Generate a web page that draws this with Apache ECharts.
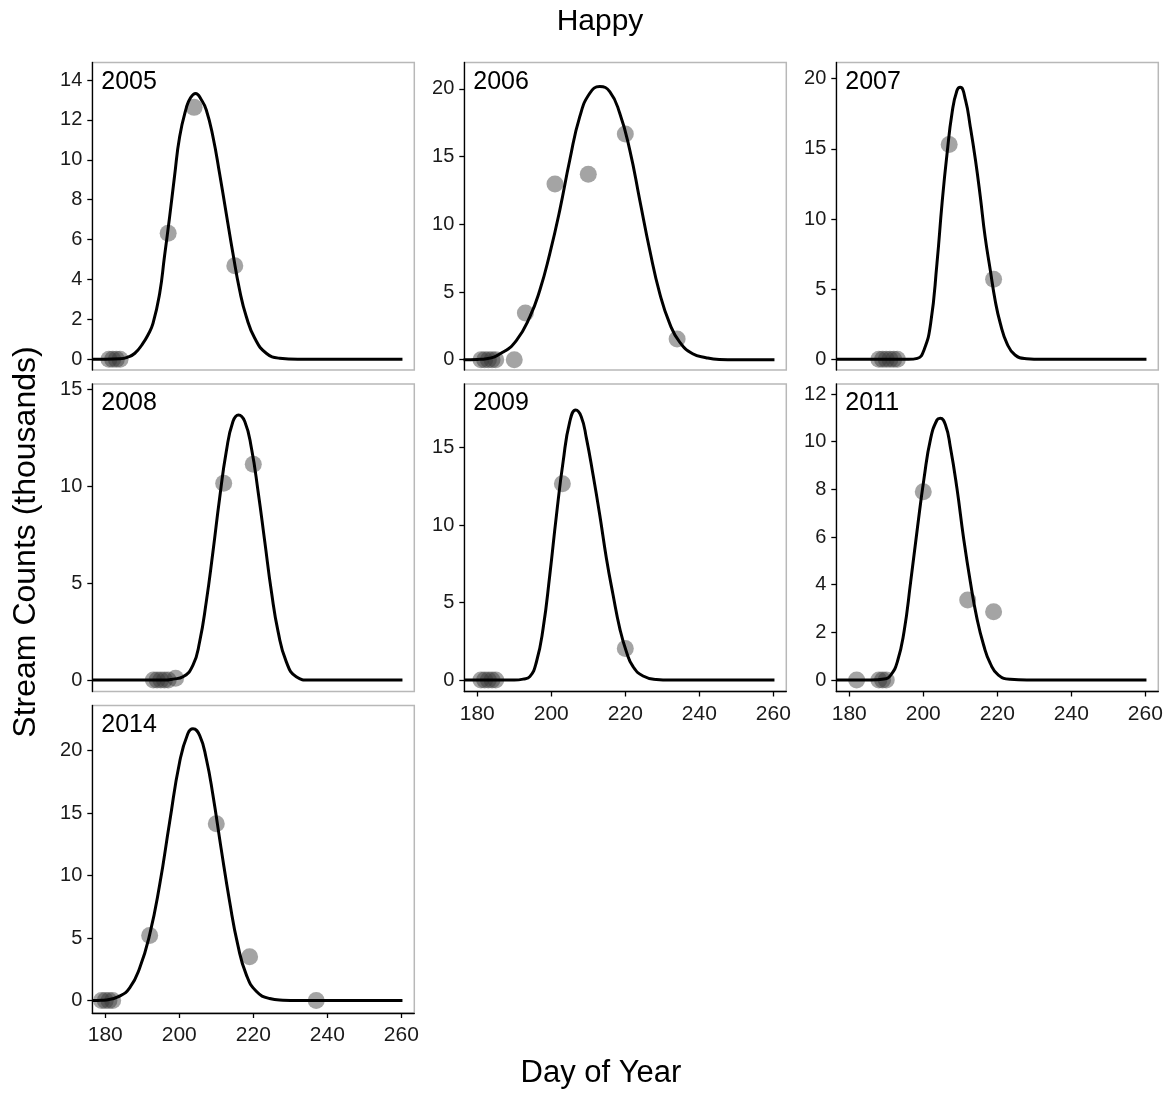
<!DOCTYPE html>
<html>
<head>
<meta charset="utf-8">
<script src="https://cdn.jsdelivr.net/npm/echarts@6/dist/echarts.min.js"></script>
<style>
html,body{margin:0;padding:0;background:#fff;}
#chart{width:1169px;height:1093px;}
</style>
</head>
<body>
<div id="chart"></div>
<script>
// ---- data ----
const years = ['2005', '2006', '2007', '2008', '2009', '2011', '2014'];
const xTicks = [180, 200, 220, 240, 260];

const pts2005 = [[181,0],[182,0],[183,0],[184,0],[197,6.32],[204,12.63],[215,4.69]];
const pts2006 = [[181,0],[182,0],[183,0],[184,0],[185,0],[190,0],[193,3.45],[201,12.97],[210,13.7],[220,16.67],[234,1.53]];
const pts2007 = [[188,0],[189,0],[190,0],[191,0],[192,0],[193,0],[207,15.3],[219,5.7]];
const pts2008 = [[193,0],[194,0],[195,0],[196,0],[197,0],[199,0.1],[212,10.16],[220,11.14]];
const pts2009 = [[181,0],[182,0],[183,0],[184,0],[185,0],[203,12.67],[220,2.04]];
const pts2011 = [[182,0],[188,0],[189,0],[190,0],[200,7.9],[212,3.36],[219,2.87]];
const pts2014 = [[179,0],[180,0],[181,0],[182,0],[192,5.21],[210,14.15],[219,3.51],[237,0]];

const fit2005 = [[176.5,0],[180,0],[184,0.02],[186,0.1],[188,0.3],[190,0.75],[191.5,1.2],[192.9,1.8],[194.7,3.3],[196,5.15],[197.4,7.15],[198.7,9.15],[200.1,11.16],[201.9,12.6],[203,13.1],[204.4,13.33],[206,13.0],[207.3,12.5],[209.1,11.16],[210.9,9.3],[212.7,7.3],[214.5,5.3],[216.3,3.47],[218.1,2.14],[220.4,1.05],[223.5,0.3],[227.1,0.05],[232,0],[260.3,0]];
const fit2006 = [[176.3,0],[180,0.02],[182.5,0.07],[187,0.57],[190.6,1.43],[194.2,3.16],[196.9,5.13],[199.6,7.84],[202.3,11.05],[205,14.75],[207.7,17.95],[210.4,19.68],[213.1,20.17],[215.8,19.8],[218.5,18.2],[221.2,15.5],[223.9,11.8],[226.6,8.1],[229.3,4.9],[232,2.66],[234.7,1.3],[238.2,0.44],[241.8,0.15],[245.4,0.02],[250,0],[260.3,0]];
const fit2007 = [[176.5,0],[196,0],[198.4,0.07],[200.2,0.67],[202,2.57],[203.7,6.84],[205.1,11.2],[206.4,14.6],[207.8,17.6],[209.1,19.15],[210,19.38],[211.4,18.48],[212.7,16.58],[214.1,14.2],[215.4,11.6],[216.7,8.74],[218.1,6.37],[219.4,4.23],[220.8,2.57],[222.6,1.14],[224.8,0.31],[227.9,0.05],[232,0],[260.3,0]];
const fit2008 = [[176.5,0],[196,0],[198.3,0.05],[201,0.17],[203.7,0.77],[205.5,1.98],[207.3,4.05],[209.1,6.63],[210.9,9.39],[212.7,11.8],[214.5,13.35],[216,13.69],[217.7,13.35],[219.5,11.97],[221.3,9.73],[223.1,7.15],[224.9,4.56],[226.7,2.5],[228.9,0.95],[231.6,0.17],[235.2,0],[260.3,0]];
const fit2009 = [[176.5,0],[190,0],[192.4,0.06],[194.2,0.22],[196,1.18],[197.8,3.34],[199.6,6.78],[201.4,10.65],[203.2,14.1],[205,16.68],[206.6,17.43],[208.1,17.0],[209.5,15.6],[211.3,13.23],[213.1,10.65],[214.9,7.85],[216.7,5.49],[218.5,3.34],[220.3,1.83],[222.1,0.86],[224.8,0.26],[228.4,0.04],[232,0],[260.3,0]];
const fit2011 = [[176.5,0],[186,0],[189.4,0.04],[191.2,0.21],[193,0.77],[194.8,2.03],[196.6,4.13],[198.4,6.36],[200.2,8.46],[202,10.14],[203.7,10.91],[204.6,10.98],[206,10.7],[207.3,9.79],[209.1,8.04],[210.9,5.94],[212.7,4.13],[214.5,2.59],[216.3,1.47],[218.1,0.7],[220.3,0.21],[223.5,0.03],[228,0],[260.3,0]];
const fit2014 = [[176.5,0],[178,0.01],[180.3,0.05],[183.9,0.35],[186.6,1.01],[189.3,2.61],[192,5.27],[194.7,9.26],[197.4,14.3],[200.1,19.1],[202.3,21.36],[203.7,21.76],[205.5,21.22],[207.3,19.36],[209.1,16.44],[211.3,12.18],[213.6,7.93],[215.8,4.47],[218.1,2.07],[220.8,0.74],[224.4,0.16],[228,0.03],[232,0],[260.3,0]];

const yTicks2005 = [0,2,4,6,8,10,12,14];
const yTicks2006 = [0,5,10,15,20];
const yTicks2007 = [0,5,10,15,20];
const yTicks2008 = [0,5,10,15];
const yTicks2009 = [0,5,10,15];
const yTicks2011 = [0,2,4,6,8,10,12];
const yTicks2014 = [0,5,10,15,20];

const yMin = [-0.54, -0.76, -0.76, -0.59, -0.74, -0.48, -1.0];
const yMax = [14.88, 21.95, 21.15, 15.29, 19.11, 12.42, 23.62];

// ---- layout ----
const points = [pts2005, pts2006, pts2007, pts2008, pts2009, pts2011, pts2014];
const fits = [fit2005, fit2006, fit2007, fit2008, fit2009, fit2011, fit2014];
const yTicks = [yTicks2005, yTicks2006, yTicks2007, yTicks2008, yTicks2009, yTicks2011, yTicks2014];
const cell = [[0,0],[0,1],[0,2],[1,0],[1,1],[1,2],[2,0]];
const showX = [false, false, false, false, true, true, true];
const colLeft = [92.3, 464.3, 836.3];
const rowTop = [62.5, 384, 705.5];
const W = 322, H = 307.5;
const FONT = '"Liberation Sans", Arial, sans-serif';

const grids = [], xAxes = [], yAxes = [], series = [], graphics = [];
years.forEach((yr, i) => {
  const [r, c] = cell[i];
  grids.push({
    left: colLeft[c], top: rowTop[r], width: W, height: H,
    show: true, borderColor: '#b8b8b8', borderWidth: 1.5, backgroundColor: 'transparent',
    containLabel: false
  });
  xAxes.push({
    type: 'value', gridIndex: i, min: 176.5, max: 263.5,
    splitLine: { show: false },
    axisLine: { show: showX[i], onZero: false, lineStyle: { color: '#000', width: 1.3 } },
    axisTick: { show: showX[i], customValues: xTicks, length: 5, lineStyle: { color: '#000', width: 1.3 } },
    axisLabel: { show: showX[i], customValues: xTicks, margin: 12, fontSize: 21, color: '#1a1a1a', fontFamily: FONT }
  });
  yAxes.push({
    type: 'value', gridIndex: i, min: yMin[i], max: yMax[i],
    splitLine: { show: false },
    axisLine: { show: true, onZero: false, lineStyle: { color: '#000', width: 1.3 } },
    axisTick: { show: true, customValues: yTicks[i], length: 5, lineStyle: { color: '#000', width: 1.3 } },
    axisLabel: { show: true, customValues: yTicks[i], margin: 10, fontSize: 20, color: '#1a1a1a', fontFamily: FONT }
  });
  series.push({
    type: 'scatter', xAxisIndex: i, yAxisIndex: i, data: points[i],
    symbol: 'circle', symbolSize: 17,
    itemStyle: { color: 'rgba(55,55,55,0.57)' }, z: 2
  });
  series.push({
    type: 'line', xAxisIndex: i, yAxisIndex: i, data: fits[i],
    showSymbol: false, smooth: 0.5,
    lineStyle: { color: '#000', width: 3 }, z: 3
  });
  graphics.push({
    type: 'text', left: colLeft[c] + 9, top: rowTop[r] + 7,
    style: { text: yr, fontSize: 25, fontFamily: FONT, fill: '#000' }, z: 10
  });
});

graphics.push({
  type: 'text', x: 600, y: 22,
  style: { text: 'Happy', fontSize: 30, fontFamily: FONT, fill: '#000', align: 'center', verticalAlign: 'middle' }
});
graphics.push({
  type: 'text', x: 601, y: 1073,
  style: { text: 'Day of Year', fontSize: 31, fontFamily: FONT, fill: '#000', align: 'center', verticalAlign: 'middle' }
});
graphics.push({
  type: 'text', x: 26, y: 542, rotation: Math.PI / 2,
  style: { text: 'Stream Counts (thousands)', fontSize: 32, fontFamily: FONT, fill: '#000', align: 'center', verticalAlign: 'middle' }
});

const chart = echarts.init(document.getElementById('chart'), null, { renderer: 'canvas' });
chart.setOption({
  animation: false,
  backgroundColor: '#fff',
  grid: grids,
  xAxis: xAxes,
  yAxis: yAxes,
  series: series,
  graphic: graphics
});
</script>
</body>
</html>
